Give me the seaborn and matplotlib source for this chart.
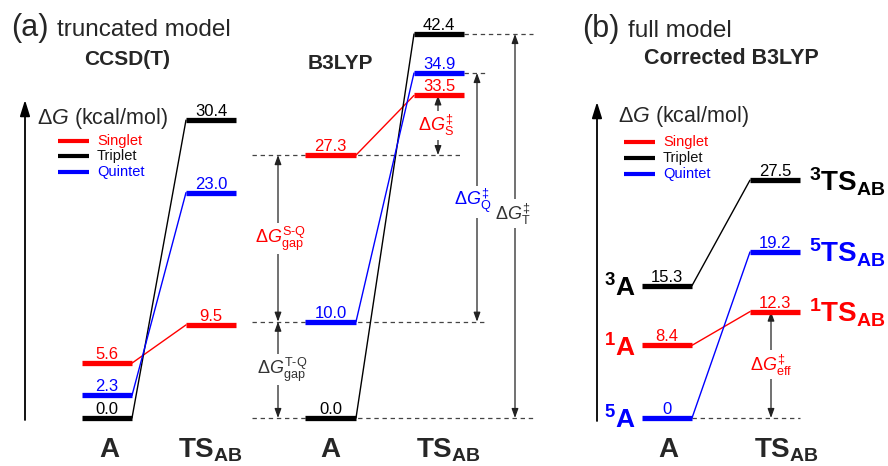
import numpy as np
import pandas as pd
import seaborn as sns
import matplotlib.pyplot as plt
from matplotlib.lines import Line2D

# energies (kcal/mol), order: Singlet, Triplet, Quintet
states = ['Singlet', 'Triplet', 'Quintet']
state_colors = ['#ff0000', '#000000', '#0000ff']
spin_mult = ['1', '3', '5']

ccsd_A = [5.6, 0.0, 2.3]
ccsd_TS = [9.5, 30.4, 23.0]
b3lyp_A = [27.3, 0.0, 10.0]
b3lyp_TS = [33.5, 42.4, 34.9]
corr_A = [8.4, 15.3, 0.0]
corr_TS = [12.3, 27.5, 19.2]
corr_A_text = ['8.4', '15.3', '0']

W, H = 888, 466
palette = dict(zip(states, state_colors))

sns.set_theme(style='white')
plt.rcParams['font.family'] = ['Liberation Sans', 'DejaVu Sans']
plt.rcParams['mathtext.fontset'] = 'custom'
plt.rcParams['mathtext.rm'] = 'Liberation Sans'
plt.rcParams['mathtext.it'] = 'Liberation Sans:italic'
plt.rcParams['mathtext.bf'] = 'Liberation Sans:bold'
plt.rcParams['mathtext.sf'] = 'Liberation Sans'

# tidy table of levels
rows = []
for panel, eA, eTS in [('ccsd', ccsd_A, ccsd_TS), ('b3lyp', b3lyp_A, b3lyp_TS),
                       ('corr', corr_A, corr_TS)]:
    for i, s in enumerate(states):
        txtA = corr_A_text[i] if panel == 'corr' else '%.1f' % eA[i]
        rows.append(dict(panel=panel, state=s, stage='A', energy=eA[i], text=txtA))
        rows.append(dict(panel=panel, state=s, stage='TS', energy=eTS[i], text='%.1f' % eTS[i]))
levels = pd.DataFrame(rows)

# x extents (pixels) of the A and TS levels in each panel
xpos = {'ccsd': {'A': (82, 132), 'TS': (186, 236)},
        'b3lyp': {'A': (305, 356), 'TS': (414, 464)},
        'corr': {'A': (642, 692), 'TS': (750, 800)}}

fig = plt.figure(figsize=(W / 100, H / 100), dpi=100)
ax_l = fig.add_axes([0, 0, 250 / W, 1])
ax_m = fig.add_axes([250 / W, 0, 310 / W, 1])
ax_b = fig.add_axes([560 / W, 0, 328 / W, 1])
ax_l.set_xlim(0, 250)
ax_m.set_xlim(250, 560)
ax_b.set_xlim(560, W)

# zero level sits 48 px above the bottom edge; pixels per kcal/mol
base = H - 418
sl, sb = 9.8, 8.65
ax_l.set_ylim(-base / sl, (H - base) / sl)
ax_b.set_ylim(-base / sb, (H - base) / sb)

# schematic (not to scale) energy axis for the B3LYP diagram:
# stretched between the two close-lying TS levels, compressed above
brk_E = [-20.0, 0.0, 33.5, 34.9, 42.4, 90.0]
brk_h = [base - 20 * 9.63, base, base + 33.5 * 9.63, base + 345, base + 384,
         base + 384 + 47.6 * 5.2]


def fwd(e):
    return np.interp(e, brk_E, brk_h)


def inv(h):
    return np.interp(h, brk_h, brk_E)


ax_m.set_yscale('function', functions=(fwd, inv))
ax_m.set_ylim(inv(0), inv(H))

for ax in (ax_l, ax_m, ax_b):
    ax.axis('off')
    ax.patch.set_alpha(0)


def draw_panel(ax, panel):
    d = levels[levels.panel == panel]
    xa, xt = xpos[panel]['A'], xpos[panel]['TS']
    conn = []
    for s in states:
        r = d[d.state == s].set_index('stage')
        conn.append(dict(state=s, x=xa[1], energy=r.loc['A', 'energy']))
        conn.append(dict(state=s, x=xt[0], energy=r.loc['TS', 'energy']))
    conn = pd.DataFrame(conn)
    sns.lineplot(data=conn, x='x', y='energy', hue='state', units='state',
                 estimator=None, sort=False, palette=palette, legend=False,
                 lw=1.0, ax=ax)
    for r in d.itertuples():
        x0, x1 = xpos[panel][r.stage]
        ax.plot([x0, x1], [r.energy, r.energy], color=palette[r.state], lw=3.8,
                solid_capstyle='butt', zorder=3)
        ax.annotate(r.text, ((x0 + x1) / 2, r.energy), xytext=(0, 4),
                    textcoords='offset pixels', ha='center', va='baseline',
                    fontsize=12, color=palette[r.state])


draw_panel(ax_l, 'ccsd')
draw_panel(ax_m, 'b3lyp')
draw_panel(ax_b, 'corr')

dash = dict(colors='#444444', linestyles=(0, (3.5, 3)), lw=0.9, zorder=1)
ax_m.hlines(b3lyp_A[0], 252, 462, **dash)
ax_m.hlines(b3lyp_A[2], 252, 487, **dash)
ax_m.hlines(b3lyp_A[1], 252, 533, **dash)
ax_m.hlines(b3lyp_TS[2], 464, 487, **dash)
ax_m.hlines(b3lyp_TS[1], 464, 533, **dash)
ax_b.hlines(corr_A[2], 692, 800, **dash)


def gap_arrow(ax, x, e0, e1, label, color, dx=0):
    ax.annotate('', xy=(x, e0), xytext=(x, e1),
                arrowprops=dict(arrowstyle='<|-|>,head_length=0.55,head_width=0.2',
                                color='#222222', lw=0.9, mutation_scale=10,
                                shrinkA=0, shrinkB=0), zorder=2)
    ax.text(x + dx, (e0 + e1) / 2, label, ha='center', va='center', fontsize=13,
            color=color, zorder=4,
            bbox=dict(fc='white', ec='none', pad=1.0))


gap_arrow(ax_m, 278, b3lyp_A[2], b3lyp_A[0],
          r'$\Delta G^{\text{S-Q}}_{\mathrm{gap}}$', '#ff0000', dx=3)
gap_arrow(ax_m, 278, b3lyp_A[1], b3lyp_A[2],
          r'$\Delta G^{\text{T-Q}}_{\mathrm{gap}}$', '#333333', dx=4)
gap_arrow(ax_m, 438, b3lyp_A[0], b3lyp_TS[0], r'$\Delta G^{‡}_{\mathrm{S}}$', '#ff0000', dx=-2)
gap_arrow(ax_m, 477, b3lyp_A[2], b3lyp_TS[2], r'$\Delta G^{‡}_{\mathrm{Q}}$', '#0000ff', dx=-4)
gap_arrow(ax_m, 515, b3lyp_A[1], b3lyp_TS[1], r'$\Delta G^{‡}_{\mathrm{T}}$', '#333333', dx=-2)
gap_arrow(ax_b, 771, corr_A[2], corr_TS[0], r'$\Delta G^{‡}_{\mathrm{eff}}$', '#ff0000')

# state labels in panel (b)
for i, s in enumerate(states):
    ax_b.annotate(r'$\mathbf{{}^{%s}A}$' % spin_mult[i], (636, corr_A[i]),
                  xytext=(0, -11), textcoords='offset pixels', ha='right',
                  va='baseline', fontsize=19, color=palette[s])
    ax_b.annotate(r'$\mathbf{{}^{%s}TS_{AB}}$' % spin_mult[i], (809, corr_TS[i]),
                  xytext=(0, -11), textcoords='offset pixels', ha='left',
                  va='baseline', fontsize=20, color=palette[s])


def ftext(x, y, s, **kw):
    fig.text(x / W, 1 - y / H, s, **kw)


ftext(11, 36, '(a)', fontsize=22, va='baseline')
ftext(57, 36, 'truncated model', fontsize=17.5, va='baseline')
ftext(127, 65, 'CCSD(T)', fontsize=15, fontweight='bold', ha='center', va='baseline')
ftext(340, 69, 'B3LYP', fontsize=15, fontweight='bold', ha='center', va='baseline')
ftext(582, 37, '(b)', fontsize=22, va='baseline')
ftext(628, 37, 'full model', fontsize=17.5, va='baseline')
ftext(731, 64, 'Corrected B3LYP', fontsize=15.5, fontweight='bold', ha='center', va='baseline')

ftext(37, 124, r'$\Delta G$ (kcal/mol)', fontsize=15.5, va='baseline')
ftext(618, 122, r'$\Delta G$ (kcal/mol)', fontsize=15.5, va='baseline')

for ax_x, top, bot in [(25, 100, 420), (597, 102, 421)]:
    ax_l.annotate('', xy=(ax_x / W, 1 - top / H), xytext=(ax_x / W, 1 - bot / H),
                  xycoords='figure fraction',
                  arrowprops=dict(arrowstyle='-|>,head_length=0.8,head_width=0.25',
                                  color='black', lw=1.3, mutation_scale=12,
                                  shrinkA=0, shrinkB=0))

# legends
for lx, ys in [(58, [141, 156, 172]), (624, [142, 158, 174])]:
    for s, c, y in zip(states, state_colors, ys):
        fig.add_artist(Line2D([lx / W, (lx + 31) / W], [1 - y / H] * 2,
                              transform=fig.transFigure, color=c, lw=3,
                              solid_capstyle='butt'))
        ftext(lx + 39, y, s, fontsize=10.5, va='center',
              color={'#000000': '#111111'}.get(c, c))

# stage labels along the bottom
for xa, xt in [(110, 210), (331, 448), (669, 786)]:
    ftext(xa, 457, r'$\mathbf{A}$', fontsize=20, ha='center', va='baseline')
    ftext(xt, 457, r'$\mathbf{TS_{AB}}$', fontsize=20, ha='center', va='baseline')

fig.savefig('out.png', dpi=100)
